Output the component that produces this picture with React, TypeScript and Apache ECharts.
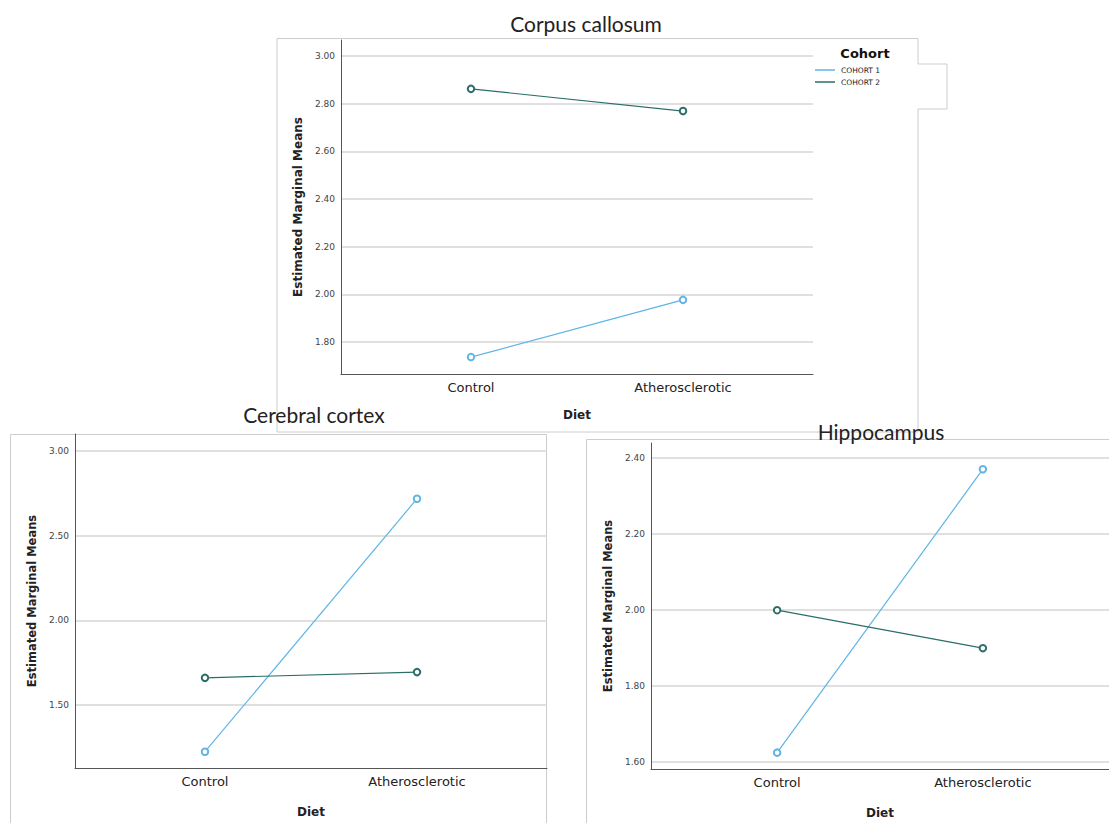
import React, { useEffect, useRef } from "react";
import * as echarts from "echarts";

// ---- data ----
const categories = ["Control", "Atherosclerotic"];
const cohorts = ["COHORT 1", "COHORT 2"];
const panelTitles = ["Corpus callosum", "Cerebral cortex", "Hippocampus"];
const corpusCohort1 = [1.737, 1.977];
const corpusCohort2 = [2.862, 2.769];
const cortexCohort1 = [1.225, 2.718];
const cortexCohort2 = [1.661, 1.695];
const hippoCohort1 = [1.625, 2.371];
const hippoCohort2 = [2.0, 1.9];
const yRanges = [
  [1.666, 3.067],
  [1.129, 3.1],
  [1.582, 2.44],
];
const ySplits = [7, 4, 4];

const C1 = "#5fb5e6";
const C2 = "#2b6e69";
const FRAME = "#cdcdcd";
const AXIS_FONT = "DejaVu Sans";
const TITLE_FONT = "Lato";

export default function App() {
  const ref = useRef<HTMLDivElement>(null);
  useEffect(() => {
    if (!ref.current) return;
    const chart = echarts.init(ref.current, undefined, { renderer: "svg" });

    const grids = [
      { left: 341, top: 40, width: 472, height: 334 },
      { left: 75, top: 434, width: 472, height: 334 },
      { left: 651, top: 443, width: 472, height: 326 },
    ];

    const xAxes = grids.map((_, i) => ({
      type: "value",
      gridIndex: i,
      min: -0.613,
      max: 1.613,
      name: "Diet",
      nameLocation: "middle",
      nameGap: i === 0 ? 35 : 38,
      nameTextStyle: { fontFamily: AXIS_FONT, fontWeight: "bold", fontSize: 12, color: "#222" },
      axisLine: { show: true, onZero: false, lineStyle: { color: "#555", width: 1 } },
      axisTick: { show: false },
      splitLine: { show: false },
      axisLabel: {
        customValues: [0, 1],
        formatter: (v: number) => categories[Math.round(v)] ?? "",
        fontFamily: AXIS_FONT,
        fontSize: 13,
        color: "#222",
        margin: 7,
      },
    }));

    const yAxes = grids.map((_, i) => ({
      type: "value",
      gridIndex: i,
      min: yRanges[i][0],
      max: yRanges[i][1],
      splitNumber: ySplits[i],
      name: "Estimated Marginal Means",
      nameLocation: "middle",
      nameRotate: 90,
      nameGap: 37,
      nameTextStyle: { fontFamily: AXIS_FONT, fontWeight: "bold", fontSize: i === 0 ? 12 : 11.5, color: "#222" },
      axisLine: { show: true, onZero: false, lineStyle: { color: "#555", width: 1 } },
      axisTick: { show: false },
      splitLine: { show: true, showMinLine: false, showMaxLine: false, lineStyle: { color: "#d6d6d6", width: 1.5 } },
      axisLabel: {
        showMinLabel: false,
        showMaxLabel: false,
        formatter: (v: number) => v.toFixed(2),
        fontFamily: AXIS_FONT,
        fontSize: 9,
        color: "#444",
        margin: 6,
      },
    }));

    const panels = [
      [corpusCohort1, corpusCohort2],
      [cortexCohort1, cortexCohort2],
      [hippoCohort1, hippoCohort2],
    ];
    const series: any[] = [];
    panels.forEach((pair, gi) => {
      pair.forEach((vals, ci) => {
        const color = ci === 0 ? C1 : C2;
        series.push({
          type: "line",
          name: cohorts[ci],
          xAxisIndex: gi,
          yAxisIndex: gi,
          data: vals.map((v, k) => [k, v]),
          symbol: "emptyCircle",
          symbolSize: 6.5,
          lineStyle: { color, width: 1.2 },
          itemStyle: { color, borderColor: color, borderWidth: 1 },
          silent: true,
        });
      });
    });

    chart.setOption({
      animation: false,
      backgroundColor: "#fff",
      title: [
        { text: panelTitles[0], left: 581, top: 8, textAlign: "center", textStyle: { fontFamily: TITLE_FONT, fontWeight: "normal", fontSize: 21, color: "#222" } },
        { text: panelTitles[1], left: 309, top: 399, textAlign: "center", textStyle: { fontFamily: TITLE_FONT, fontWeight: "normal", fontSize: 21, color: "#222" } },
        { text: panelTitles[2], left: 876, top: 416, textAlign: "center", textStyle: { fontFamily: TITLE_FONT, fontWeight: "normal", fontSize: 21, color: "#222" } },
        { text: "Cohort", left: 860, top: 42, textAlign: "center", textStyle: { fontFamily: AXIS_FONT, fontWeight: "bold", fontSize: 13, color: "#111" } },
      ],
      legend: {
        orient: "vertical",
        left: 815,
        top: 65.5,
        itemWidth: 20,
        itemHeight: 1.5,
        itemGap: 3,
        icon: "rect",
        selectedMode: false,
        data: [
          { name: cohorts[0], itemStyle: { color: C1, borderWidth: 0 } },
          { name: cohorts[1], itemStyle: { color: C2, borderWidth: 0 } },
        ],
        textStyle: { fontFamily: AXIS_FONT, fontSize: 7.5, lineHeight: 9, color: "#222", padding: [0, 0, 0, 1] },
        padding: 0,
      },
      graphic: [
        {
          type: "polyline",
          silent: true,
          z: -1,
          shape: {
            points: [
              [277, 432], [277, 38.5], [918, 38.5], [918, 64], [947, 64], [947, 109], [918, 109], [918, 432], [277, 432],
            ],
          },
          style: { stroke: FRAME, fill: null, lineWidth: 1 },
        },
        { type: "rect", silent: true, z: -1, shape: { x: 10.5, y: 434.5, width: 536, height: 420 }, style: { stroke: FRAME, fill: null, lineWidth: 1 } },
        { type: "rect", silent: true, z: -1, shape: { x: 586.5, y: 439.5, width: 600, height: 420 }, style: { stroke: FRAME, fill: null, lineWidth: 1 } },
      ],
      grid: grids,
      xAxis: xAxes,
      yAxis: yAxes,
      series,
    });
    return () => chart.dispose();
  }, []);
  return <div ref={ref} style={{ position: "fixed", left: 0, top: 0, width: 1109, height: 823 }} />;
}
